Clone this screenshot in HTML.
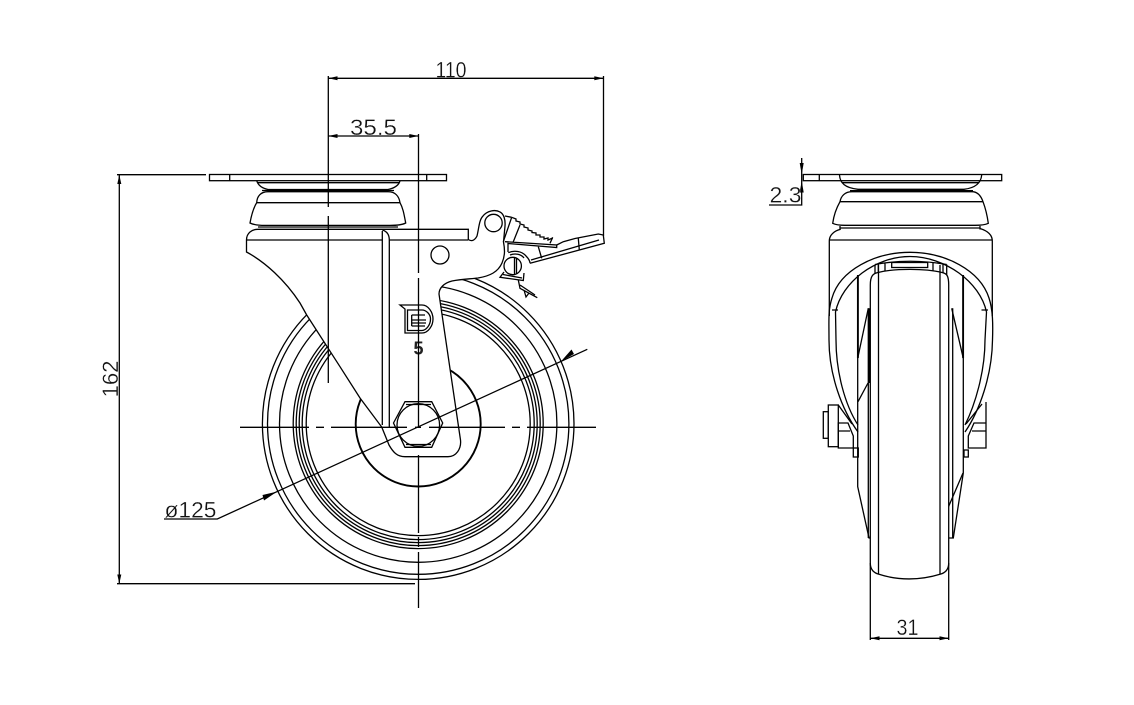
<!DOCTYPE html>
<html>
<head>
<meta charset="utf-8">
<style>
html,body{margin:0;padding:0;background:#fff;}
svg{display:block;}
text{font-family:"Liberation Sans",sans-serif;fill:#111;stroke:#fff;stroke-width:.3;}
.l{fill:none;stroke:#000;stroke-width:1.3;}
.t{fill:none;stroke:#000;stroke-width:1.9;}
.c{fill:none;stroke:#000;stroke-width:1.3;}
.w{fill:#fff;stroke:#000;stroke-width:1.3;}
.a{fill:#000;stroke:none;}
</style>
</head>
<body>
<svg width="1134" height="705" viewBox="0 0 1134 705" xmlns="http://www.w3.org/2000/svg">

<!-- LEFT VIEW: wheel -->
<g class="l">
<circle cx="418.2" cy="423.6" r="155.8"/>
<circle cx="418.2" cy="423.6" r="150.7"/>
<circle cx="418.2" cy="423.6" r="138.7"/>
<circle cx="418.2" cy="423.6" r="125"/>
<circle cx="418.2" cy="423.6" r="122"/>
<circle cx="418.2" cy="423.6" r="119"/>
<circle cx="418.2" cy="423.6" r="116"/>
<circle cx="418.2" cy="423.6" r="112"/>
</g>
<circle class="t" cx="418.2" cy="424" r="62.5"/>

<!-- top plate -->
<rect class="l" x="209.5" y="174.5" width="237" height="6.2"/>
<path class="l" d="M229.7,174.5V180.7M426.7,174.5V180.7"/>
<path class="l" d="M256.7,180.7C258,185 261,188 268,189.5H388C395,188 399,185 400,180.7"/>
<path class="l" d="M258,182.7H399M262,190.5H394"/>
<!-- dome -->
<path class="l" d="M250,223C252,212 254,207 256.7,202.7C257,196 261,191.7 268,191.7H388C395,191.7 399,196 400,202.7C403,208 404,214 405.7,223C402,225 395,225.4 390,225.4H265C260,225.4 254,225 250,223Z"/>
<path class="l" d="M256.7,202.7H400M258,227H398"/>
<!-- fork / arm -->
<path class="w" d="M246.5,252V240C246.5,233 252,229.3 258,229.3H468.3V239.5C472,242 475,240 477,236C479,228 479,220 483,216C487,211 495,209 500,212C504,214 505.5,220 505,226L503.5,242C505,250 505,256 502,263C498,272 490,276 478,278C470,279 462,279 452,281C444,283 439,288 439,294L460.5,440C461.5,449 456,456.7 448,456.7H405C397,456.7 393,452 389,445L381.7,427L360,398L340,366.7L306.7,315L300,303C285,280 265,262 246.5,252Z"/>
<path class="l" d="M246.5,240H382.3M389.3,240H468.3"/>
<path class="l" d="M382.3,230Q389.3,232 389.3,240V427M382.3,231V425"/>
<circle class="l" cx="440" cy="255" r="9"/>
<circle class="l" cx="493.5" cy="223" r="8.7"/>

<!-- pedal -->
<path class="l" d="M505,216L511.7,217.3"/>
<polyline class="l" points="511.7,217.3 516,219 516,221 520,222 520,224 524,225 524,227 528,228 528,230 532,231 532,232.5 536,233 536,235 540,235 540,237 544,237 544,239 548,238 548,240 552.7,238"/>
<path class="l" d="M511.7,217.3L503.3,241.7M520,225L513.3,241.7M552.7,237.3L550,243.3M505,241.7L556.7,245V247.5L508,243.5V252"/>
<path class="l" d="M556.7,245L563.3,241.7L575,238.5L598.3,234L603.3,235L604.3,243.3L530,263.3M599,240L531,260"/>
<path class="l" d="M578.3,238.3L579.3,250M538.3,246.7L541.7,258.3"/>
<path class="l" d="M508.3,252.7C514,250 522,251 526,256C528,258 530,261 530,263.3M510,255C515,253 521,254 524,258"/>
<circle class="w" cx="512.7" cy="266" r="8.7"/>
<path class="l" d="M514.5,258V274M516.5,258.5V273.5"/>
<path class="l" d="M504,272L500,277.3L523.3,280.5L524,273M503,274.5L522,278"/>
<path class="l" d="M518.3,280L520,288.3L537.3,297.7M520,285L535,295M524,290L526,297L529,293"/>

<!-- logo -->
<path class="l" d="M400,305H422C428,305 433,312 433,319C433,326 428,333 422,333H405V309Z"/>
<path class="l" d="M407.5,310H422C426,310 430.5,314 430.5,319C430.5,325 426,330.5 422,330.5H407.5Z"/>
<path class="l" d="M411.7,315H425M411.7,320H426M411.7,323H426M411.7,326H425M411.7,315V326"/>
<text x="418.5" y="354.5" font-size="18" font-weight="bold" text-anchor="middle" style="stroke:none;fill:#222">5</text>

<!-- nut -->
<polygon class="w" points="393.5,423 405,401.7 431.7,401.7 442.7,423 431.7,447.3 405,447.3"/>
<circle class="l" cx="418.3" cy="425" r="21.3"/>
<path class="l" d="M406,404.5H431M406,444.5H431"/>

<!-- centerlines -->
<path class="c" d="M240,427.3H309M316,427.3H324M331,427.3H407M415,427.3H421M429,427.3H505M512,427.3H520M527,427.3H596"/>
<path class="c" d="M418.5,134V273M418.5,278V427M418.5,455V533M418.5,537V547M418.5,552V608"/>
<path class="c" d="M328.3,76V207M328.3,216V383"/>

<!-- dim 110 / 35.5 -->
<path class="c" d="M328.3,78.3H603.5M603.5,76V236M328.3,136H418.5"/>
<polygon class="a" points="328.3,78.3 337.5,76.3 337.5,80.3"/>
<polygon class="a" points="603.5,78.3 594.3,76.3 594.3,80.3"/>
<polygon class="a" points="328.3,136 337.5,134 337.5,138"/>
<polygon class="a" points="418.5,136 409.3,134 409.3,138"/>
<text x="451" y="77.5" font-size="22" text-anchor="middle" textLength="31" lengthAdjust="spacingAndGlyphs">110</text>
<text x="373.5" y="135" font-size="22" text-anchor="middle" textLength="47" lengthAdjust="spacingAndGlyphs">35.5</text>

<!-- dim 162 -->
<path class="c" d="M119.3,174.7V583.7M117,174.7H206M117,583.7H415"/>
<polygon class="a" points="119.3,174.7 117.3,184 121.3,184"/>
<polygon class="a" points="119.3,583.7 117.3,574.5 121.3,574.5"/>
<text transform="translate(118 379) rotate(-90)" font-size="22" text-anchor="middle" textLength="37" lengthAdjust="spacingAndGlyphs">162</text>

<!-- dim dia 125 -->
<path class="c" d="M164,519H217.3L587.3,349.3"/>
<polygon class="a" points="277,491.6 262.5,495 264,500.5"/>
<polygon class="a" points="561,361.4 574,354 571.5,349.5"/>
<text x="190.5" y="517.5" font-size="22" text-anchor="middle" textLength="52" lengthAdjust="spacingAndGlyphs">ø125</text>

<!-- RIGHT VIEW -->
<rect class="l" x="803.3" y="174.5" width="198.4" height="6.2"/>
<path class="l" d="M819.3,174.5V180.7"/>
<path class="l" d="M839.5,175C840,183 845,188 858,189.3H964C975,188 981,183 981.7,175"/>
<path class="l" d="M842,182.7H979M850,190.7H973"/>
<path class="l" d="M832.7,223.3C834,214 837,207 840,201.7C841,196 845,191.7 852,191.7H972C978,191.7 981,196 983,201.7C985,207 987,214 988.3,223.3C985,225 980,225.3 975,225.3H845C840,225.3 836,225 832.7,223.3Z"/>
<path class="l" d="M840,201.7H983M840,228H980M840,226V229.5M980,226V229.5"/>
<path class="l" d="M840.7,229.3C834,231 829.3,235 829.3,241V316M980,228.5C988,231 992.3,235 992.3,241V316M829.3,240H992.3"/>

<!-- arch -->
<path class="l" d="M858,432C842,410 829,375 829,340C829,320 828,310 832,298C840,270 875,252.3 910,252.3C945,252.3 980,270 989,298C993,310 993,325 992.5,340C992,375 980,410 965,432"/>
<path class="l" d="M858,425C845,405 836,372 836,340L835.5,312C842,282 875,256.5 910,256.5C945,256.5 980,282 986.5,312L985,340C985,372 975,405 965,425"/>
<path class="l" d="M832,310H838M981.5,310H988"/>

<!-- bolt & nuts -->
<rect class="l" x="823.3" y="411.7" width="5" height="26.6"/>
<rect class="w" x="828.3" y="405" width="10" height="41.7"/>
<path class="l" d="M838.3,423H848L853.3,436V448H838.3ZM838.3,431H850M838.3,405L852,424"/>
<rect class="l" x="853.3" y="448" width="5" height="9"/>
<rect class="l" x="964" y="450" width="4.3" height="7"/>
<path class="l" d="M968.3,436L974,423H986V448H968.3ZM972,431H986M986,402V448M966,424L982,404"/>

<!-- fork side lines -->
<path class="l" d="M857.7,275V486.7L869,538H870.3"/>
<path class="t" d="M857.9,275V358"/>
<path class="l" d="M963.3,275V473L953.3,538H949"/>
<path class="t" d="M963.1,275V358"/>
<path class="l" d="M868.3,308.3L857.7,358.3M951.7,308.3L963.3,358.3M868,383L858,401.7M963,473L948.5,506.7"/>
<path class="l" d="M868.3,308.3V538M952.7,308.3V538M869.5,308.3V383"/>

<!-- bracket top -->
<path class="l" d="M875,264.5Q910,258 946.7,264.5M875,264.5V276M878.3,264V276M943,264V276M946.7,264.5V276M885,263V271M933,263V271"/>
<rect class="l" x="891.7" y="262.5" width="36" height="5"/>

<!-- wheel side -->
<path class="w" d="M870.3,563V285C870.3,276 873,273.5 878,272.5C895,268.3 925,268.3 942,272.5C947,273.5 948.7,276 948.7,285V563C948.7,570 945,573 940,574.3C920,580.5 898,580.5 879,574.3C874,573 870.3,570 870.3,563Z"/>
<path class="l" d="M878.5,265V574M940,265V574"/>

<!-- dim 2.3 -->
<path class="c" d="M801.7,158V205H769"/>
<polygon class="a" points="801.7,174.5 799.7,163 803.7,163"/>
<polygon class="a" points="801.7,180.7 799.7,192.5 803.7,192.5"/>
<text x="785.5" y="202.5" font-size="22" text-anchor="middle" textLength="32" lengthAdjust="spacingAndGlyphs">2.3</text>

<!-- dim 31 -->
<path class="c" d="M870.3,563V640M948.7,563V640M870.3,638.3H948.7"/>
<polygon class="a" points="870.3,638.3 879.5,636.3 879.5,640.3"/>
<polygon class="a" points="948.7,638.3 939.5,636.3 939.5,640.3"/>
<text x="907.5" y="635" font-size="22" text-anchor="middle" textLength="22" lengthAdjust="spacingAndGlyphs">31</text>
</svg>
</body>
</html>
